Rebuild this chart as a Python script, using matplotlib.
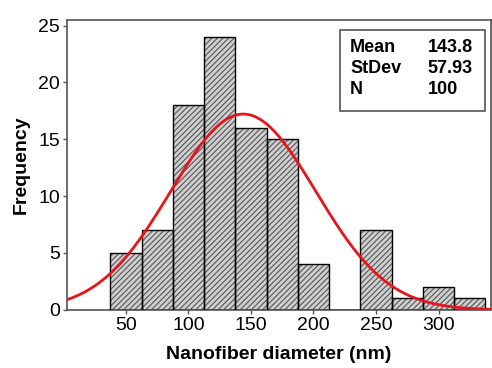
import matplotlib.pyplot as plt
import numpy as np

plt.rcParams["font.family"] = ["Liberation Sans", "DejaVu Sans"]
plt.rcParams["hatch.linewidth"] = 0.8

# histogram bins (centres, nm) and counts
bin_centres = [50, 75, 100, 125, 150, 175, 200, 225, 250, 275, 300, 325]
counts = [5, 7, 18, 24, 16, 15, 4, 0, 7, 1, 2, 1]
bin_width = 25

mean_d = 143.8
std_d = 57.93
n_fibers = 100

x_ticks = [50, 100, 150, 200, 250, 300]
y_ticks = [0, 5, 10, 15, 20, 25]

fig = plt.figure(figsize=(4.92, 3.68), dpi=100)
ax = fig.add_axes([0.136, 0.158, 0.862, 0.788])

# hatched fill first, then black outlines on top
ax.bar(bin_centres, counts, width=bin_width, color="#cfcfcf",
       edgecolor="#555555", hatch="//////", linewidth=0, zorder=2)
ax.bar(bin_centres, counts, width=bin_width, fill=False,
       edgecolor="black", linewidth=1.0, zorder=3)

# fitted normal curve scaled to counts
xs = np.linspace(0, 345, 400)
ys = n_fibers * bin_width / (std_d * np.sqrt(2 * np.pi)) * np.exp(-0.5 * ((xs - mean_d) / std_d) ** 2)
ax.plot(xs, ys, color="#e8141b", linewidth=2.0, zorder=4)

ax.set_xlim(2.8, 342)
ax.set_ylim(0, 25.5)
ax.set_xticks(x_ticks)
ax.set_yticks(y_ticks)
ax.tick_params(labelsize=14, length=3, color="#555555", width=1, pad=2)
for s in ax.spines.values():
    s.set_color("#555555")
    s.set_linewidth(1.2)

ax.set_xlabel("Nanofiber diameter (nm)", fontsize=14, fontweight="bold", labelpad=9)
ax.set_ylabel("Frequency", fontsize=14, fontweight="bold", labelpad=6)

# stats box
stats_text = [("Mean", f"{mean_d:.1f}"), ("StDev", f"{std_d:.2f}"), ("N", f"{n_fibers}")]
box = plt.Rectangle((0.645, 0.685), 0.34, 0.28, transform=ax.transAxes,
                    fill=False, edgecolor="#555555", linewidth=1.2, zorder=5)
ax.add_patch(box)
for i, (k, v) in enumerate(stats_text):
    yy = 0.905 - i * 0.072
    ax.text(0.668, yy, k, transform=ax.transAxes, fontsize=13, fontweight="bold", va="center")
    ax.text(0.85, yy, v, transform=ax.transAxes, fontsize=13, fontweight="bold", va="center")

fig.savefig("out.png", dpi=100)
